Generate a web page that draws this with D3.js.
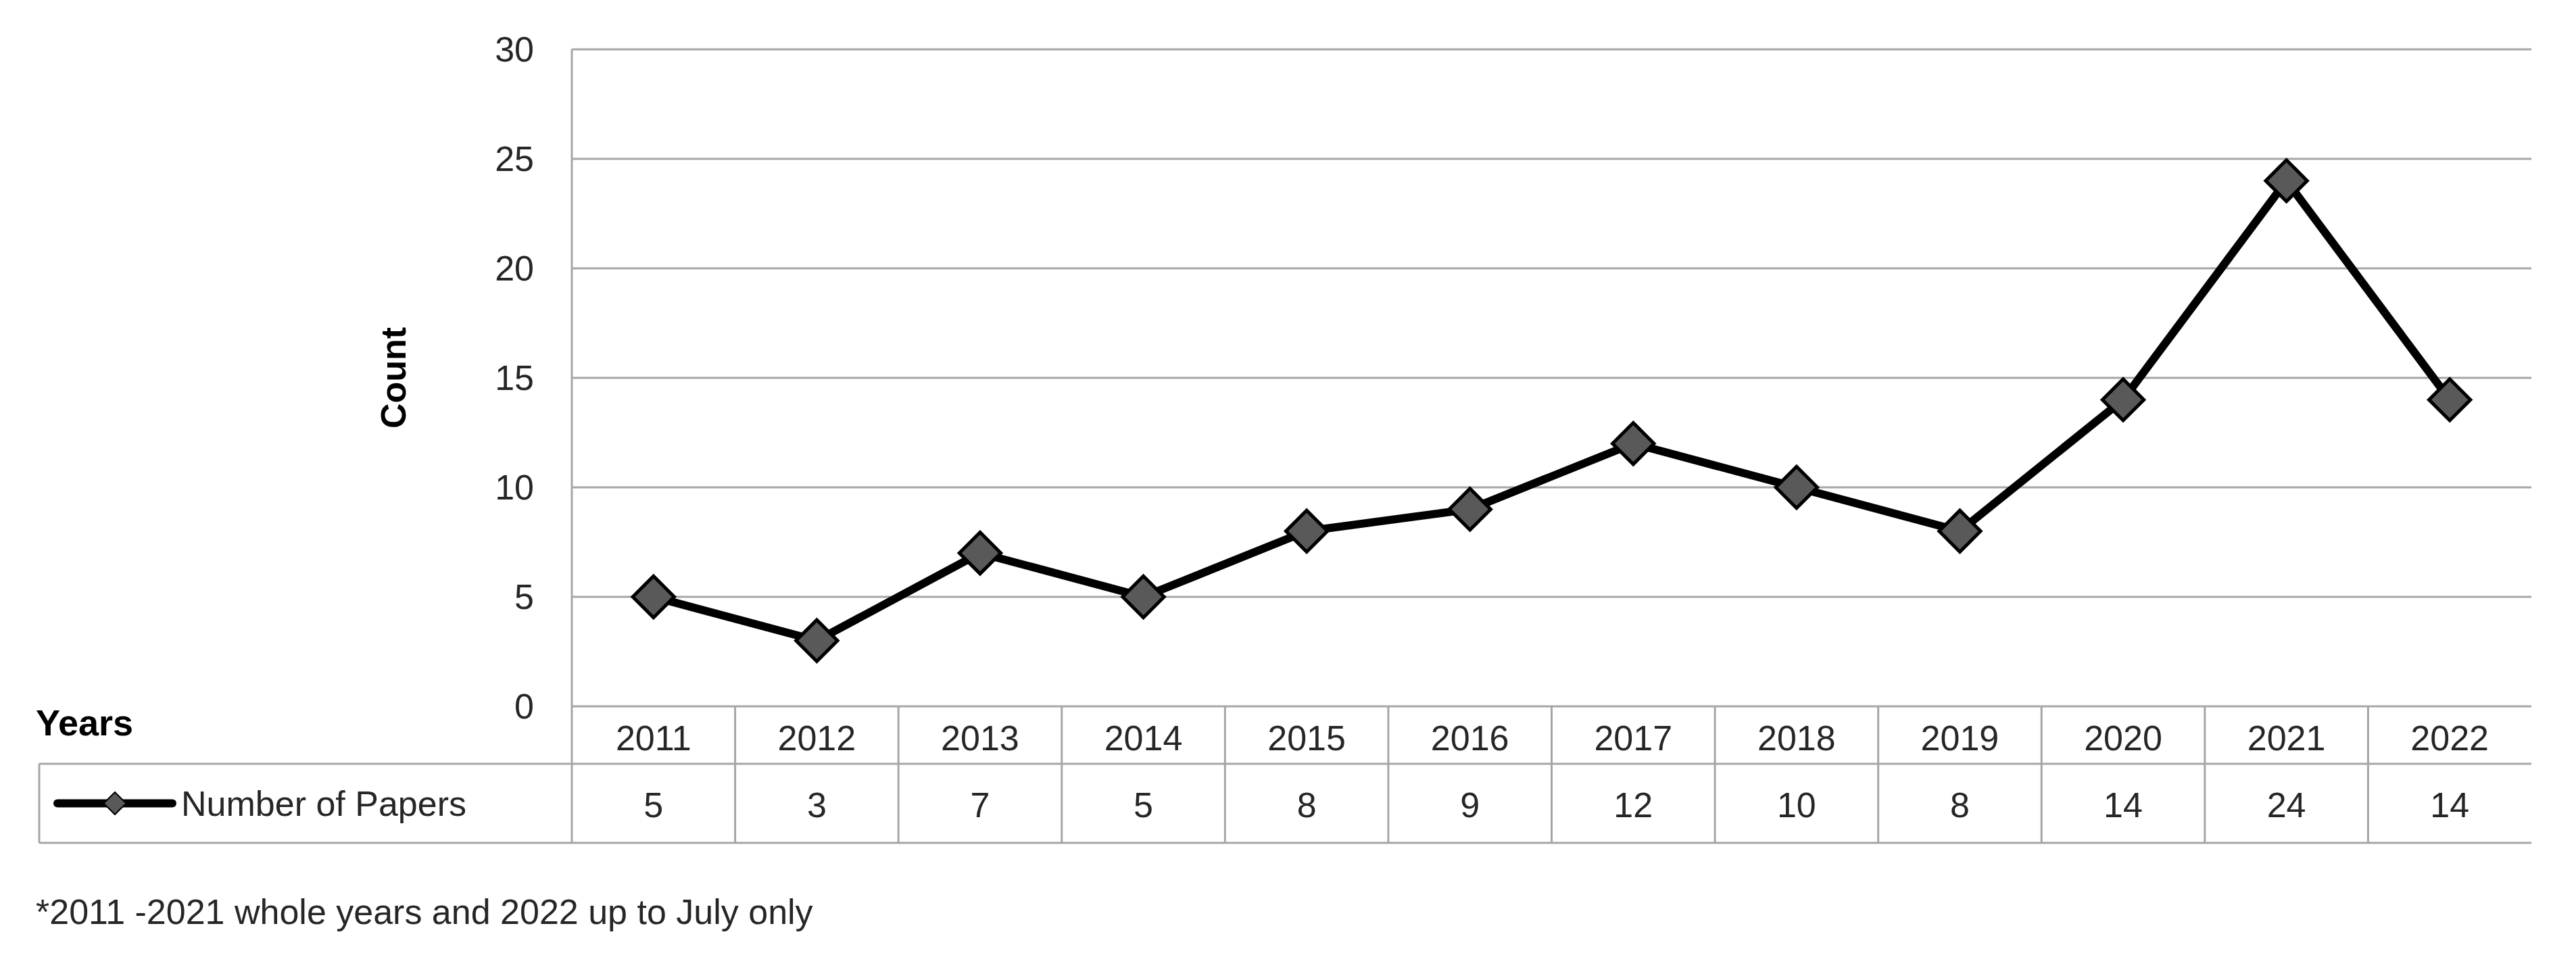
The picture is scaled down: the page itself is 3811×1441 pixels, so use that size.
<!DOCTYPE html>
<html>
<head>
<meta charset="utf-8">
<script src="https://cdn.jsdelivr.net/npm/d3@7"></script>
<style>
  body { margin: 0; background: #fff; }
  text { font-family: "Liberation Sans", Arial, sans-serif; }
</style>
</head>
<body>
<svg id="chart" width="3811" height="1441"></svg>
<script>
// data
const years = ["2011", "2012", "2013", "2014", "2015", "2016", "2017", "2018", "2019", "2020", "2021", "2022"];
const papers = [5, 3, 7, 5, 8, 9, 12, 10, 8, 14, 24, 14];
const yTicks = [0, 5, 10, 15, 20, 25, 30];
const seriesName = "Number of Papers";
const note = "*2011 -2021 whole years and 2022 up to July only";

const svg = d3.select("#chart");
const plotLeft = 846, plotRight = 3745, plotTop = 73, zeroY = 1045;
const rowMid = 1130, tableBottom = 1247, tableLeft = 58;
const grid = "#a6a6a6";

const x = d3.scaleBand().domain(years).range([plotLeft, plotRight]);
const y = d3.scaleLinear().domain([0, 30]).range([zeroY, plotTop]);

// horizontal gridlines
svg.append("g").selectAll("line").data(yTicks).join("line")
	.attr("x1", plotLeft).attr("x2", plotRight)
	.attr("y1", d => y(d)).attr("y2", d => y(d))
	.attr("stroke", grid).attr("stroke-width", 3);

// left axis line
svg.append("line").attr("x1", plotLeft).attr("x2", plotLeft).attr("y1", plotTop).attr("y2", tableBottom)
	.attr("stroke", grid).attr("stroke-width", 3);

svg.append("g").selectAll("text").data(yTicks).join("text")
	.attr("x", plotLeft - 56).attr("y", d => y(d)).attr("dy", "0.35em")
	.attr("text-anchor", "end").attr("font-size", 52).attr("fill", "#262626")
	.text(d => d);

svg.append("text")
	.attr("transform", `translate(${600},${559}) rotate(-90)`)
	.attr("text-anchor", "middle").attr("font-size", 52).attr("font-weight", "bold")
	.text("Count");

// data table
svg.append("line").attr("x1", tableLeft).attr("x2", plotRight).attr("y1", rowMid).attr("y2", rowMid)
	.attr("stroke", grid).attr("stroke-width", 3);
svg.append("line").attr("x1", tableLeft).attr("x2", plotRight).attr("y1", tableBottom).attr("y2", tableBottom)
	.attr("stroke", grid).attr("stroke-width", 3);
svg.append("line").attr("x1", tableLeft).attr("x2", tableLeft).attr("y1", rowMid).attr("y2", tableBottom)
	.attr("stroke", grid).attr("stroke-width", 3);
svg.append("g").selectAll("line").data(years.slice(1)).join("line")
	.attr("x1", d => x(d)).attr("x2", d => x(d)).attr("y1", zeroY).attr("y2", tableBottom)
	.attr("stroke", grid).attr("stroke-width", 3);

svg.append("g").selectAll("text").data(years).join("text")
	.attr("x", d => x(d) + x.bandwidth() / 2).attr("y", (zeroY + rowMid) / 2 + 4).attr("dy", "0.35em")
	.attr("text-anchor", "middle").attr("font-size", 52).attr("fill", "#262626")
	.text(d => d);
svg.append("g").selectAll("text").data(papers).join("text")
	.attr("x", (d, i) => x(years[i]) + x.bandwidth() / 2).attr("y", (rowMid + tableBottom) / 2 + 2).attr("dy", "0.35em")
	.attr("text-anchor", "middle").attr("font-size", 52).attr("fill", "#262626")
	.text(d => d);

svg.append("text").attr("x", 53).attr("y", 1069).attr("dy", "0.35em")
	.attr("font-size", 54).attr("font-weight", "bold").text("Years");

// legend key inside table
const ky = (rowMid + tableBottom) / 2;
svg.append("line").attr("x1", 85).attr("x2", 255).attr("y1", ky).attr("y2", ky)
	.attr("stroke", "#000").attr("stroke-width", 12).attr("stroke-linecap", "round");
const diamond = d3.symbol().type(d3.symbolDiamond2);
svg.append("path").attr("d", diamond.size(700)()).attr("transform", `translate(170,${ky})`)
	.attr("fill", "#595959").attr("stroke", "#000").attr("stroke-width", 2);
svg.append("text").attr("x", 268).attr("y", ky).attr("dy", "0.35em")
	.attr("font-size", 52).attr("fill", "#262626").text(seriesName);

// series line and markers
const line = d3.line().x((d, i) => x(years[i]) + x.bandwidth() / 2).y(d => y(d));
svg.append("path").datum(papers).attr("d", line)
	.attr("fill", "none").attr("stroke", "#000").attr("stroke-width", 12).attr("stroke-linejoin", "round");
svg.append("g").selectAll("path").data(papers).join("path")
	.attr("d", diamond.size(2400)())
	.attr("transform", (d, i) => `translate(${x(years[i]) + x.bandwidth() / 2},${y(d)})`)
	.attr("fill", "#595959").attr("stroke", "#000").attr("stroke-width", 5);

svg.append("text").attr("x", 53).attr("y", 1349).attr("dy", "0.35em")
	.attr("font-family", "Open Sans, Calibri, sans-serif").attr("font-size", 52).attr("fill", "#262626")
	.text(note);
</script>
</body>
</html>
